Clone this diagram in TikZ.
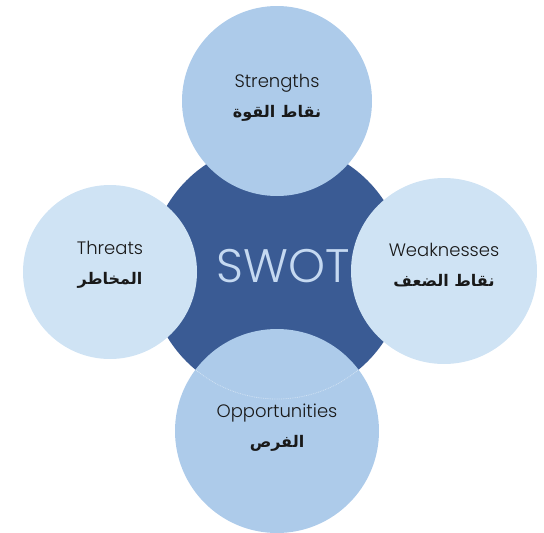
\documentclass[tikz,border=0pt]{standalone}
\usepackage{fontspec}
\setmainfont{Poppins Light}
\newfontfamily\arabicfont[Script=Arabic]{DejaVu Sans}
\TeXXeTstate=1
\newcommand{\arabtext}[1]{{\arabicfont\bfseries\fontsize{16}{16}\selectfont\beginR #1\endR}}
\definecolor{swotdark}{HTML}{3A5B94}
\definecolor{swotmid}{HTML}{ADCBEA}
\definecolor{swotpale}{HTML}{CFE3F4}
\definecolor{swottext}{HTML}{C5D9F1}
\tikzset{
    petal/.style={circle, inner sep=0pt, minimum size=#1},
    caption/.style={align=center, text=black!90, font=\fontsize{18}{30}\selectfont}
}

\begin{document}
\begin{tikzpicture}[x=1pt, y=-1pt]
        \useasboundingbox (0,0) rectangle (544,533);
        % centre disc
        \node[circle, fill=swotdark, minimum size=256pt] (swot) at (277,271) {};
        % the four petals
        \node[petal=190pt, fill=swotmid] (strengths) at (277,101) {};
        \node[petal=174pt, fill=swotpale] (threats) at (110,272) {};
        \node[petal=186pt, fill=swotpale] (weaknesses) at (444,271) {};
        \node[petal=204pt, fill=swotmid] (opportunities) at (277,431) {};
        % edge of the disc showing through
        \begin{scope}
            \clip (opportunities.center) circle (102);
            \draw[white, opacity=.45, densely dotted, line width=.8pt] (swot.center) circle (128);
        \end{scope}
        % labels
        \node[caption] (strengths text) at ([yshift=3pt]strengths.center) {Strengths\\ \arabtext{نقاط القوة}};
        \node[caption] (threats text) at ([yshift=7pt]threats.center) {Threats\\ \arabtext{المخاطر}};
        \node[caption] (weaknesses text) at ([yshift=6pt]weaknesses.center) {Weaknesses\\ \arabtext{نقاط الضعف}};
        \node[caption] (opportunities text) at ([yshift=3pt]opportunities.center) {Opportunities\\ \arabtext{الفرص}};
        \node[text=swottext, font=\fontsize{47}{47}\selectfont] (title) at (283,266) {SWOT};
    \end{tikzpicture}
\end{document}
